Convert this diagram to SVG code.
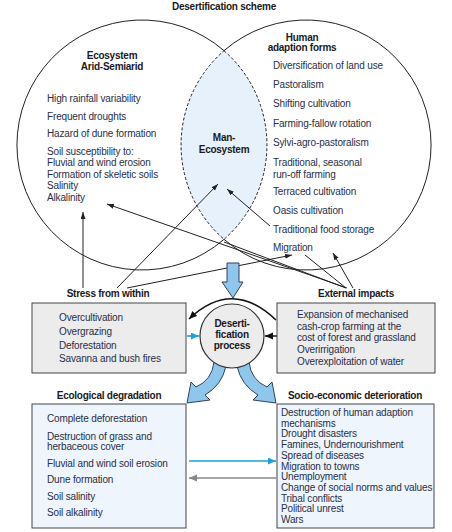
<svg xmlns="http://www.w3.org/2000/svg" width="452" height="532" viewBox="0 0 452 532">
<defs>
<style>
text{font-family:"Liberation Sans",Arial,sans-serif;font-size:10px;letter-spacing:-0.15px;fill:#28304a}
.h{font-weight:bold;fill:#1a1a22;letter-spacing:-0.25px;text-anchor:middle}
.c{text-anchor:middle}
.ln{fill:none;stroke:#222;stroke-width:1}
.box{stroke:#444;stroke-width:1}
.gray{fill:#ececec}
.blue{fill:#eef5fc}
.big{fill:#8fc6ec;stroke:#33415a;stroke-width:1}
</style>
<marker id="ah" markerUnits="userSpaceOnUse" markerWidth="8" markerHeight="6" refX="7" refY="2.5" orient="auto"><path d="M0,0 L7,2.5 L0,5 z" fill="#222"/></marker>
<marker id="ahb" markerUnits="userSpaceOnUse" markerWidth="9" markerHeight="8" refX="8" refY="3.5" orient="auto"><path d="M0,0 L8,3.5 L0,7 z" fill="#111"/></marker>
<marker id="ahc" markerUnits="userSpaceOnUse" markerWidth="9" markerHeight="8" refX="8" refY="3.5" orient="auto"><path d="M0,0 L8,3.5 L0,7 z" fill="#1ba1de"/></marker>
<marker id="ahg" markerUnits="userSpaceOnUse" markerWidth="9" markerHeight="8" refX="8" refY="3.5" orient="auto"><path d="M0,0 L8,3.5 L0,7 z" fill="#888"/></marker>
</defs>
<rect width="452" height="532" fill="#fff"/>
<text class="h" x="224" y="10">Desertification scheme</text>

<g id="ecosystem">
<path d="M224,50.7 A125,125 0 1,0 224,239.3" class="ln"/>
<text class="h" x="112" y="59">Ecosystem</text>
<text class="h" x="112" y="70">Arid-Semiarid</text>
<text x="47" y="102">High rainfall variability</text>
<text x="47" y="120">Frequent droughts</text>
<text x="47" y="137">Hazard of dune formation</text>
<text x="47" y="155">Soil susceptibility to:</text>
<text x="47" y="166">Fluvial and wind erosion</text>
<text x="47" y="178">Formation of skeletic soils</text>
<text x="47" y="189">Salinity</text>
<text x="47" y="201">Alkalinity</text>
</g>

<g id="human-adaption">
<path d="M224,50.7 A125,125 0 1,1 224,239.3" class="ln"/>
<text class="h" x="302" y="41">Human</text>
<text class="h" x="302" y="51">adaption forms</text>
<text x="273" y="69">Diversification of land use</text>
<text x="273" y="88">Pastoralism</text>
<text x="273" y="107">Shifting cultivation</text>
<text x="273" y="127">Farming-fallow rotation</text>
<text x="273" y="146">Sylvi-agro-pastoralism</text>
<text x="273" y="166">Traditional, seasonal</text>
<text x="273" y="178">run-off farming</text>
<text x="273" y="195">Terraced cultivation</text>
<text x="273" y="214">Oasis cultivation</text>
<text x="273" y="233">Traditional food storage</text>
<text x="273" y="251">Migration</text>
</g>

<g id="man-ecosystem">
<path d="M224,50.7 A125,125 0 0,1 224,239.3 A125,125 0 0,1 224,50.7 Z" fill="#e6f1fb" stroke="#222" stroke-width="1" stroke-dasharray="3,2"/>
<text class="h" x="224" y="141">Man-</text>
<text class="h" x="224" y="153">Ecosystem</text>
</g>

<g id="connectors">
<path class="ln" d="M83,288 L83,212" marker-end="url(#ah)"/>
<path class="ln" d="M117,288 L218,184" marker-end="url(#ah)"/>
<path class="ln" d="M127,288 L292,255" marker-end="url(#ah)"/>
<path class="ln" d="M270,226 L227,189" marker-end="url(#ah)"/>
<path class="ln" d="M347,288 L107,204" marker-end="url(#ah)"/>
<path class="ln" d="M346,288 L224,242"/>
<path class="ln" d="M346,288 L305,255"/>
<path class="ln" d="M353,288 L333,253" marker-end="url(#ah)"/>
<path d="M276,320 Q232,278 189,319" fill="none" stroke="#111" stroke-width="1.6" marker-end="url(#ahb)"/>
<path d="M187,336 L199,336" stroke="#1ba1de" stroke-width="1.6" marker-end="url(#ahc)"/>
<path d="M277,336 L265,336" stroke="#222" stroke-width="1.6" marker-end="url(#ahb)"/>
<path d="M189,461 L276,461" stroke="#1ba1de" stroke-width="1.6" marker-end="url(#ahc)"/>
<path d="M276,478 L189,478" stroke="#888" stroke-width="1.6" marker-end="url(#ahg)"/>
<path class="big" d="M227,263 L239,263 L239,282 L243,282 L233,298 L222,282 L227,282 Z"/>
<path class="big" d="M214,362 Q212,380 196,387 L191,382 L187,403 L210,400 L205,395 Q222,385 226,366 Z"/>
<path class="big" d="M249,362 Q251,380 267,387 L272,382 L276,403 L253,400 L258,395 Q241,385 237,366 Z"/>
</g>

<g id="stress-from-within">
<text class="h" x="108" y="297">Stress from within</text>
<rect class="box gray" x="32" y="303" width="154" height="70"/>
<text x="59" y="321">Overcultivation</text>
<text x="59" y="335">Overgrazing</text>
<text x="59" y="349">Deforestation</text>
<text x="59" y="362">Savanna and bush fires</text>
</g>

<g id="external-impacts">
<text class="h" x="356" y="297">External impacts</text>
<rect class="box gray" x="277" y="303" width="158" height="70"/>
<text x="297" y="318">Expansion of mechanised</text>
<text x="297" y="330">cash-crop farming at the</text>
<text x="297" y="341">cost of forest and grassland</text>
<text x="297" y="353">Overirrigation</text>
<text x="297" y="365">Overexploitation of water</text>
</g>

<g id="desertification-process">
<circle cx="232" cy="336" r="32" fill="#ececec" stroke="#333" stroke-width="1.2"/>
<text class="h" x="232" y="327">Deserti-</text>
<text class="h" x="232" y="338">fication</text>
<text class="h" x="232" y="349">process</text>
</g>

<g id="ecological-degradation">
<text class="h" x="109" y="399">Ecological degradation</text>
<rect class="box blue" x="32" y="404" width="154" height="124"/>
<text x="47" y="422">Complete deforestation</text>
<text x="47" y="440">Destruction of grass and</text>
<text x="47" y="450">herbaceous cover</text>
<text x="47" y="467">Fluvial and wind soil erosion</text>
<text x="47" y="483">Dune formation</text>
<text x="47" y="500">Soil salinity</text>
<text x="47" y="516">Soil alkalinity</text>
</g>

<g id="socio-economic-deterioration">
<text class="h" x="355" y="399">Socio-economic deterioration</text>
<rect class="box blue" x="277" y="404" width="157" height="124"/>
<text x="281" y="416">Destruction of human adaption</text>
<text x="281" y="426.7">mechanisms</text>
<text x="281" y="437.4">Drought disasters</text>
<text x="281" y="448.1">Famines, Undernourishment</text>
<text x="281" y="458.8">Spread of diseases</text>
<text x="281" y="469.5">Migration to towns</text>
<text x="281" y="480.2">Unemployment</text>
<text x="281" y="490.9">Change of social norms and values</text>
<text x="281" y="501.6">Tribal conflicts</text>
<text x="281" y="512.3">Political unrest</text>
<text x="281" y="523">Wars</text>
</g>
</svg>
